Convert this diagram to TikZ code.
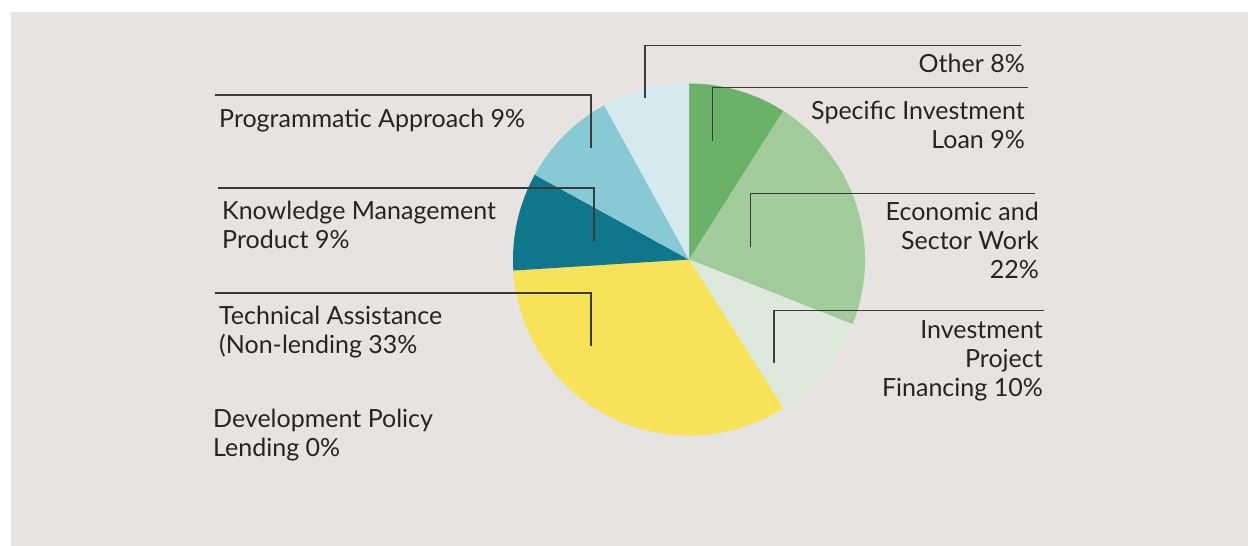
\documentclass[tikz,border=0pt]{standalone}
\usepackage{fontspec}
\setmainfont{Lato}
\usepackage{tikz}
\definecolor{bg}{HTML}{E7E3E0}
\definecolor{ink}{HTML}{262324}
\definecolor{silgreen}{HTML}{69B267}
\definecolor{eswgreen}{HTML}{A2CB9C}
\definecolor{ipfgreen}{HTML}{DDEADB}
\definecolor{tayellow}{HTML}{F8E258}
\definecolor{kmpteal}{HTML}{0E788A}
\definecolor{pablue}{HTML}{88C9D3}
\definecolor{othblue}{HTML}{D5EAF0}
\tikzset{
  lbl/.style={inner sep=0pt, text=ink, font=\fontsize{25}{29}\selectfont},
  rlbl/.style={lbl, anchor=base east, align=right},
  llbl/.style={lbl, anchor=base west, align=left},
  leader/.style={draw=ink!90, line width=1.3pt}
}
\begin{document}
\begin{tikzpicture}[x=1pt,y=-1pt]
\useasboundingbox (0,0) rectangle (1248,546);
\fill[bg] (11,12) rectangle (1248,546);
% pie
\begin{scope}[shift={(689,259.5)},yscale=-1]
\foreach \a/\b/\col in {90/57.6/silgreen, 57.6/-21.6/eswgreen, -21.6/-57.6/ipfgreen,
  -57.6/-176.4/tayellow, 183.6/151.2/kmpteal, 151.2/118.8/pablue, 118.8/90/othblue}
  \fill[\col] (0,0) -- (\a:176) arc[start angle=\a, end angle=\b, radius=176] -- cycle;
\end{scope}
% labels right (base = last line)
\node[rlbl] (oth) at (1025,72.7) {Other 8\%};
\node[rlbl] (sil) at (1025,148.3) {Specific Investment\\Loan 9\%};
\node[rlbl] (esw) at (1039,278) {Economic and\\Sector Work\\22\%};
\node[rlbl] (ipf) at (1043,396.7) {Investment\\Project\\Financing 10\%};
% labels left
\node[llbl] (pa) at (219,127) {Programmatic Approach 9\%};
\node[llbl] (kmp) at (222,248) {Knowledge Management\\Product 9\%};
\node[llbl] (ta) at (219,353) {Technical Assistance\\(Non-lending 33\%};
\node[llbl] (dpl) at (213,456) {Development Policy\\Lending 0\%};
% leaders
\coordinate (oth-end) at (1021,45.3);  \coordinate (oth-tip) at (645,98.3);
\coordinate (sil-end) at (1028,87.7);  \coordinate (sil-tip) at (712.5,140.7);
\coordinate (esw-end) at (1035,193.3); \coordinate (esw-tip) at (750.7,246.7);
\coordinate (ipf-end) at (1043.6,310.3); \coordinate (ipf-tip) at (774,363.3);
\coordinate (pa-end) at (215,95);   \coordinate (pa-tip) at (591,148);
\coordinate (kmp-end) at (218,188); \coordinate (kmp-tip) at (594,241);
\coordinate (ta-end) at (215,293);  \coordinate (ta-tip) at (591,346);
\draw[leader] (oth-end) -| (oth-tip);
\draw[leader] (sil-end) -| (sil-tip);
\draw[leader] (esw-end) -| (esw-tip);
\draw[leader] (ipf-end) -| (ipf-tip);
\draw[leader] (pa-end) -| (pa-tip);
\draw[leader] (kmp-end) -| (kmp-tip);
\draw[leader] (ta-end) -| (ta-tip);
\end{tikzpicture}
\end{document}
